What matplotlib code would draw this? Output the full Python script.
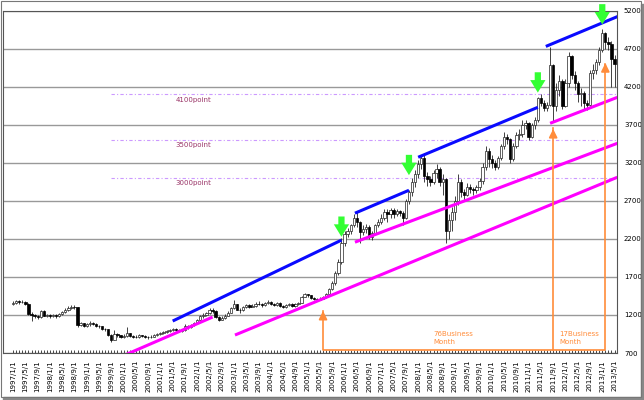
import numpy as np
import matplotlib
matplotlib.use("Agg")
import matplotlib.pyplot as plt
from matplotlib.patches import Rectangle

# monthly candles 1997/1 .. 2013/5 (open = previous close)
first_open = 1350
closes = [1360, 1380, 1365, 1375, 1345, 1215, 1200, 1185, 1175, 1250, 1190, 1195,
          1185, 1195, 1180, 1210, 1240, 1265, 1295, 1310, 1300, 1070, 1090, 1060,
          1075, 1100, 1080, 1060, 1050, 1020, 1010, 940, 875, 945, 930, 910,
          925, 960, 920, 915, 910, 930, 920, 910, 905, 915, 930, 945,
          960, 975, 990, 1000, 1010, 1000, 990, 1005, 1050, 1040, 1070, 1090,
          1130, 1180, 1200, 1220, 1260, 1255, 1175, 1140, 1165, 1190, 1230, 1290,
          1340, 1270, 1260, 1300, 1330, 1310, 1320, 1350, 1340, 1330, 1360, 1370,
          1340, 1330, 1360, 1320, 1300, 1330, 1345, 1320, 1340, 1360, 1440, 1470,
          1460, 1420, 1410, 1400, 1415, 1430, 1470, 1540, 1620, 1750, 1900, 2150,
          2260, 2300, 2380, 2480, 2420, 2290, 2330, 2350, 2230, 2280, 2380, 2420,
          2480, 2550, 2520, 2580, 2520, 2570, 2540, 2480, 2700, 2820, 2950, 3050,
          3180, 3260, 3020, 2980, 2950, 3060, 3120, 2950, 2980, 2300, 2450, 2550,
          2700, 2950, 2820, 2780, 2880, 2850, 2840, 2880, 2960, 3150, 3350, 3250,
          3200, 3150, 3260, 3420, 3540, 3510, 3250, 3420, 3560, 3580, 3700, 3720,
          3540, 3700, 3760, 4050, 3980, 3920, 3960, 4480, 3950, 4150, 4280, 3950,
          4250, 4600, 4350, 4250, 4100, 4120, 3980, 3960, 4380, 4420, 4520, 4680,
          4900, 4780, 4760, 4560, 4500]
highs = [1385, 1395, 1390, 1395, 1385, 1360, 1235, 1215, 1200, 1270, 1260, 1215,
         1210, 1215, 1210, 1230, 1255, 1285, 1315, 1330, 1325, 1310, 1110, 1100,
         1095, 1115, 1110, 1090, 1070, 1060, 1035, 1020, 950, 1000, 960, 940,
         945, 1040, 965, 935, 930, 945, 940, 930, 925, 930, 945, 960,
         975, 990, 1005, 1020, 1030, 1025, 1010, 1020, 1080, 1065, 1085, 1110,
         1145, 1195, 1225, 1240, 1285, 1290, 1270, 1190, 1180, 1210, 1250, 1310,
         1400, 1350, 1290, 1320, 1345, 1345, 1340, 1365, 1380, 1355, 1375, 1390,
         1385, 1360, 1375, 1370, 1335, 1345, 1360, 1355, 1355, 1375, 1450, 1485,
         1480, 1465, 1430, 1420, 1430, 1450, 1490, 1560, 1650, 1780, 1940, 2210,
         2300, 2340, 2400, 2520, 2550, 2440, 2380, 2400, 2380, 2300, 2400, 2460,
         2520, 2590, 2590, 2610, 2600, 2590, 2580, 2560, 2720, 2840, 3000, 3100,
         3240, 3300, 3310, 3080, 3020, 3100, 3180, 3140, 3050, 3000, 2520, 2620,
         2760, 3050, 2980, 2860, 2940, 2920, 2880, 2910, 3000, 3200, 3420, 3400,
         3300, 3230, 3290, 3450, 3600, 3580, 3520, 3460, 3600, 3640, 3760, 3760,
         3740, 3720, 3800, 4060, 4100, 4020, 4000, 4720, 4500, 4250, 4350, 4300,
         4300, 4650, 4620, 4400, 4280, 4180, 4140, 4020, 4420, 4500, 4560, 4720,
         4960, 4920, 4850, 4800, 4620]
lows = [1335, 1345, 1350, 1355, 1330, 1200, 1120, 1160, 1150, 1165, 1180, 1170,
        1165, 1170, 1160, 1170, 1195, 1225, 1250, 1280, 1280, 1040, 1055, 1040,
        1040, 1060, 1065, 1045, 1030, 1005, 995, 925, 850, 865, 910, 895,
        895, 915, 905, 900, 895, 900, 905, 895, 890, 895, 905, 920,
        935, 945, 960, 975, 985, 985, 975, 980, 995, 1020, 1030, 1060,
        1080, 1120, 1165, 1185, 1210, 1225, 1160, 1120, 1130, 1150, 1180, 1220,
        1280, 1260, 1230, 1250, 1285, 1295, 1300, 1305, 1325, 1310, 1315, 1340,
        1325, 1315, 1320, 1300, 1285, 1290, 1315, 1310, 1310, 1330, 1355, 1430,
        1440, 1410, 1395, 1385, 1390, 1405, 1420, 1460, 1525, 1600, 1730, 1870,
        2100, 2220, 2260, 2350, 2350, 2150, 2250, 2280, 2200, 2180, 2260, 2350,
        2400, 2450, 2420, 2480, 2480, 2500, 2500, 2380, 2460, 2660, 2760, 2880,
        3000, 3120, 2950, 2900, 2900, 2920, 3000, 2900, 2780, 2140, 2200, 2300,
        2450, 2650, 2750, 2700, 2760, 2800, 2780, 2800, 2840, 2920, 3100, 3150,
        3130, 3100, 3120, 3230, 3380, 3450, 3200, 3220, 3400, 3500, 3540, 3640,
        3500, 3520, 3640, 3740, 3940, 3880, 3880, 3940, 3750, 3880, 4080, 3900,
        3930, 4200, 4300, 4150, 4000, 3950, 3900, 3890, 3920, 4300, 4360, 4480,
        4650, 4700, 4680, 4200, 4200]

# trend lines: (month index, value) pairs
blue_lines = [((52, 1120), (107, 2183)), ((111.4, 2537), (129, 2838)),
              ((132, 3272), (171, 3928)), ((173.6, 4728), (197, 5121))]
pink_lines = [((36.5, 675), (65, 1172)), ((72.3, 936), (196.9, 3009)),
              ((111.4, 2156), (196.9, 3455)), ((175, 3718), (196.9, 4059))]
green_arrows = [(107, 2190), (129, 3000), (171, 4085), (192, 4980)]
point_levels = [4100, 3500, 3000]
point_labels = ['4100point', '3500point', '3000point']

n = len(closes)
opens = [first_open] + closes[:-1]
x = np.arange(n)
tick_labels = ['%d/%d/1' % (1997 + i // 12, i % 12 + 1) for i in range(0, n, 4)]

fig = plt.figure(figsize=(6.44, 4.0), dpi=100)
ax = fig.add_axes([3 / 644, 47 / 400, 614 / 644, 342.5 / 400])

for lv in range(700, 5201, 500):
    ax.axhline(lv, color='#999999', lw=1.0, zorder=1)

for lv, lab in zip(point_levels, point_labels):
    ax.plot([32, 197], [lv, lv], color='#cc99ff', lw=0.8, ls=(0, (3, 2, 1, 2)), zorder=1)
    ax.text(53, lv - 70, lab, color='#993366', fontsize=5, va='center', ha='left')

o = np.array(opens)
c = np.array(closes)
up = c >= o
ax.vlines(x, lows, highs, color='#222222', lw=0.6, zorder=2)
ax.bar(x[up], (c - o)[up], bottom=o[up], width=0.75, color='white',
       edgecolor='#222222', linewidth=0.5, zorder=3)
ax.bar(x[~up], (o - c)[~up], bottom=c[~up], width=0.75, color='black',
       edgecolor='black', linewidth=0.5, zorder=3)

for (x0, y0), (x1, y1) in blue_lines:
    ax.plot([x0, x1], [y0, y1], color='#0a0aff', lw=2.2, zorder=4, solid_capstyle='butt')
for (x0, y0), (x1, y1) in pink_lines:
    ax.plot([x0, x1], [y0, y1], color='#ff00ff', lw=2.2, zorder=4, solid_capstyle='butt')

for gx, gy in green_arrows:
    ax.annotate('', xy=(gx, gy), xytext=(gx, gy + 340),
                arrowprops=dict(arrowstyle='simple,head_width=1.1,head_length=0.9,tail_width=0.45',
                                color='#33ff33', lw=0), zorder=5)

orange = '#ff8c3a'
base = 740
ax.plot([101, 101, 193, 193], [1250, base, base, 4500], color=orange, lw=1.2, zorder=4)
ax.plot([176, 176], [base, 3650], color=orange, lw=1.2, zorder=4)
for ox, oy in [(101, 1290), (176, 3680), (193, 4545)]:
    ax.annotate('', xy=(ox, oy), xytext=(ox, oy - 120),
                arrowprops=dict(arrowstyle='-|>,head_width=0.25,head_length=0.5',
                                color=orange, lw=1.2), zorder=5)
ax.text(137, 900, '76Business\nMonth', color=orange, fontsize=5, va='center', ha='left',
        linespacing=1.3)
ax.text(178, 900, '17Business\nMonth', color=orange, fontsize=5, va='center', ha='left',
        linespacing=1.3)

ax.set_xlim(-3.3, 196.8)
ax.set_ylim(700, 5200)
ax.yaxis.tick_right()
ax.set_yticks(range(700, 5201, 500))
ax.tick_params(axis='y', length=0, labelsize=5, pad=5)
ax.set_xticks(range(0, n, 4))
ax.set_xticklabels(tick_labels, rotation=90, fontsize=5)
ax.set_xticks(range(n), minor=True)
ax.tick_params(axis='x', which='both', direction='in', length=2, width=0.5, pad=5)
for s in ax.spines.values():
    s.set_color('#555555')
    s.set_linewidth(0.8)

# outer frame with shadow
fig.add_artist(Rectangle((3 / 644, 0), 640 / 644, 3 / 400, transform=fig.transFigure,
                         color='#888888', zorder=-1))
fig.add_artist(Rectangle((641 / 644, 0), 3 / 644, 396 / 400, transform=fig.transFigure,
                         color='#888888', zorder=-1))
fig.add_artist(Rectangle((0.5 / 644, 3 / 400), 640 / 644, 396 / 400, transform=fig.transFigure,
                         fill=False, edgecolor='#777777', lw=0.8))

fig.savefig('out.png', dpi=100)
